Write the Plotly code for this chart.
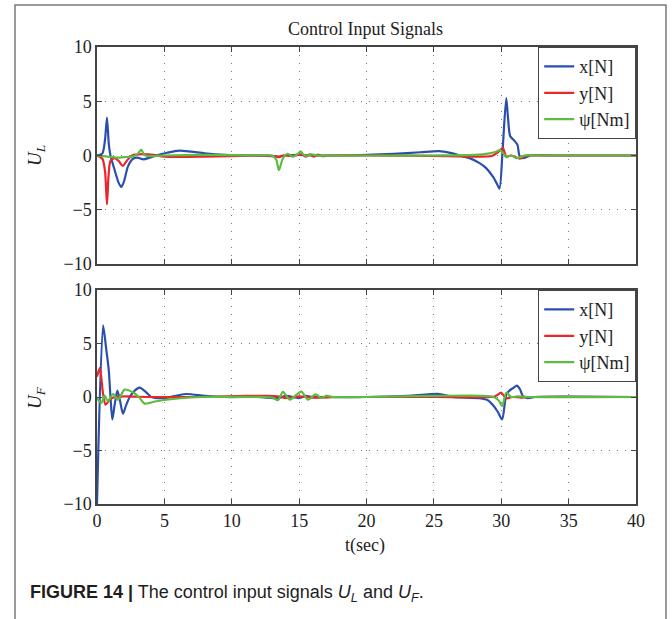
import plotly.graph_objects as go

# ---- U_L (leader control inputs) ----
tL_x = [0, 0.4, 0.6, 0.74, 0.88, 1.0, 1.3, 1.6, 1.8, 2.0, 2.3, 2.67, 3.0, 3.45, 3.9, 4.4,
        5.2, 6.1, 7.0, 8.0, 9.5, 11, 13.0, 13.5, 14, 15, 16, 18, 20, 22, 24, 25.4, 26.4,
        26.9, 27.6, 28.39, 28.88, 29.38, 29.67, 29.87, 30.1, 30.37, 30.5, 30.66, 30.98,
        31.2, 31.36, 31.6, 32.2, 34, 40]
uL_x = [0, 0.2, 1.5, 3.5, 1.0, 0.0, -1.3, -2.5, -2.9, -2.4, -1.0, -0.3, -0.2, -0.35, -0.2, 0.0,
        0.25, 0.45, 0.35, 0.2, 0.05, 0, -0.05, -0.1, 0, 0.05, 0, 0, 0.05, 0.15, 0.3, 0.4, 0.2,
        0, -0.22, -0.7, -1.16, -1.95, -2.58, -3.05, 0.5, 5.28, 3.5, 1.8, 1.35,
        1.0, -0.05, -0.25, 0, 0, 0]

tL_y = [0, 0.4, 0.6, 0.74, 0.85, 1.0, 1.3, 1.6, 1.9, 2.2, 2.6, 3.4, 4.2, 5, 8, 10, 12,
        13.2, 13.5, 13.8, 14.5, 15.2, 15.5, 15.8, 16.1, 16.4, 16.7, 17.2, 20, 26, 28, 29.3,
        29.75, 30.12, 30.37, 30.7, 31.0, 31.36, 31.85, 33, 40]
uL_y = [0, -0.3, -1.5, -4.5, -2.0, -0.5, -0.25, -0.5, -0.95, -0.5, 0, 0.12, 0.05, -0.1, -0.1, -0.05, 0,
        -0.05, -0.15, 0, -0.05, 0.1, -0.1, 0.1, -0.1, 0.08, -0.05, 0, 0, -0.05, -0.1, -0.05,
        0.3, 0.7, -0.1, 0, -0.1, -0.3, 0, 0, 0]

tL_psi = [0, 0.8, 1.5, 2.0, 2.6, 3.0, 3.29, 3.5, 3.8, 5, 8, 12, 13.0, 13.3, 13.5, 13.75, 13.95,
          14.17, 14.54, 14.85, 15.11, 15.3, 15.53, 15.9, 16.4, 20, 25, 28, 29.13, 29.6, 29.92,
          30.15, 30.37, 30.74, 31.16, 31.73, 33, 40]
uL_psi = [0, -0.1, -0.2, -0.15, -0.1, 0.1, 0.55, 0.05, -0.05, 0, 0.05, 0, 0, -0.4, -1.35, -0.4, 0,
          0.16, -0.1, 0.1, 0.38, 0.1, -0.05, 0.1, 0, 0, 0, 0.05, 0.2, 0.35, 0.5,
          0.2, -0.15, 0, -0.25, 0, 0, 0]

# ---- U_F (follower control inputs) ----
tF_x = [0, 0.45, 0.69, 0.87, 1.0, 1.14, 1.3, 1.51, 1.7, 1.93, 2.15, 2.43, 2.8, 3.17, 3.6,
        4.03, 5.0, 6.6, 8, 9.5, 12, 13.5, 14, 15, 15.5, 16, 17, 20, 23, 25.42, 26.41, 28.39,
        29.0, 29.38, 29.75, 30.07, 30.37, 30.61, 30.9, 31.16, 31.4, 31.6, 31.97, 32.5, 40]
uF_x = [-10, 6.7, 4.4, 2.56, 0, -2.1, -0.8, 0.6, -0.3, -1.56, -0.8, 0, 0.6, 0.875, 0.5,
        0, -0.1, 0.28, 0.1, 0, 0, -0.1, 0.1, -0.1, 0.1, 0, 0, 0, 0.1, 0.28, 0, -0.12,
        -0.3, -0.75, -1.4, -2.1, 0.2, 0.6, 0.85, 1.07, 0.7, 0.1, -0.1, 0, 0]

tF_y = [0, 0.2, 0.3, 0.45, 0.64, 0.94, 1.3, 2, 4, 8, 11, 12.5, 13.5, 14, 15, 16, 18, 25,
        29.5, 30.0, 30.37, 30.8, 31.48, 32, 40]
uF_y = [1.9, 2.7, 2.0, 0.3, -0.72, -0.25, 0, 0.05, 0, 0, 0.1, 0.1, 0.05, -0.1, 0.05, -0.05, 0, 0,
        0.05, 0.4, -0.12, 0, -0.05, 0, 0]

tF_psi = [0, 0.32, 0.57, 0.82, 1.19, 1.56, 2.05, 2.67, 3.1, 3.54, 4.4, 5.64, 7.6, 10, 13,
          13.43, 13.8, 14.3, 15.16, 15.66, 16.22, 16.65, 17.0, 17.5, 20, 25, 29.3, 29.8,
          30.07, 30.37, 30.74, 31.2, 32, 40]
uF_psi = [-0.1, -0.56, 0.12, -0.4, 0.28, -0.25, 0.69, 0.44, 0, -0.62, -0.4, -0.19, 0, 0, -0.05,
          -0.3, 0.47, -0.25, 0.5, -0.25, 0.25, -0.1, 0.12, 0, 0, 0.1, 0.05, -0.3,
          -0.85, 0.4, 0, 0.05, 0, 0]

names = ["x[N]", "y[N]", "\u03c8[Nm]"]
colors = ["#2b4fac", "#e8262c", "#5dbb3f"]
x_ticks = [0, 5, 10, 15, 20, 25, 30, 35, 40]
y_ticks = [-10, -5, 0, 5, 10]

SERIF = "Liberation Serif, Times New Roman, serif"
SANS = "Liberation Sans, Arial, sans-serif"
AX = "#444444"

W, H = 672, 619
def px_x(p):
    return p / W
def px_y(p):
    return 1 - p / H

fig = go.Figure()

top = [(tL_x, uL_x), (tL_y, uL_y), (tL_psi, uL_psi)]
bot = [(tF_x, uF_x), (tF_y, uF_y), (tF_psi, uF_psi)]
for (t, u), n, c in zip(top, names, colors):
    fig.add_trace(go.Scatter(x=t, y=u, name=n, mode="lines",
                             line=dict(color=c, width=2.2, shape="spline", smoothing=0.7),
                             xaxis="x", yaxis="y", legend="legend"))
for (t, u), n, c in zip(bot, names, colors):
    fig.add_trace(go.Scatter(x=t, y=u, name=n, mode="lines",
                             line=dict(color=c, width=2.2, shape="spline", smoothing=0.7),
                             xaxis="x2", yaxis="y2", legend="legend2"))

xdom = [px_x(97), px_x(636)]
axis_common = dict(showline=True, linecolor=AX, linewidth=1.5, mirror="ticks",
                   ticks="inside", ticklen=5, tickcolor=AX, tickwidth=1,
                   showgrid=True, gridcolor="#7a7a7a", gridwidth=1, griddash="1px,7px",
                   zeroline=False, automargin=False,
                   tickfont=dict(family=SERIF, size=18, color="#222"))

legend_common = dict(x=px_x(636), xanchor="right", yanchor="top",
                     bgcolor="white", bordercolor=AX, borderwidth=1.2,
                     font=dict(family=SERIF, size=18, color="#222"), itemwidth=30,
                     tracegroupgap=0)

fig.update_layout(
    width=W, height=H, margin=dict(l=0, r=0, t=0, b=0, pad=0, autoexpand=False),
    autosize=False,
    paper_bgcolor="white", plot_bgcolor="white",
    xaxis=dict(domain=xdom, range=[0, 40], tickvals=x_ticks, showticklabels=False,
               anchor="y", **axis_common),
    yaxis=dict(domain=[px_y(264), px_y(47)], range=[-10, 10], tickvals=y_ticks,
               anchor="x", **axis_common),
    xaxis2=dict(domain=xdom, range=[0, 40], tickvals=x_ticks, anchor="y2",
                **axis_common),
    yaxis2=dict(domain=[px_y(504), px_y(290)], range=[-10, 10], tickvals=y_ticks,
                anchor="x2", **axis_common),
    legend=dict(y=px_y(47), **legend_common),
    legend2=dict(y=px_y(290), **legend_common),
    showlegend=True,
)

def note(text, x, y, size=18, family=SERIF, angle=0, xanchor="center", color="#222"):
    return dict(text=text, x=px_x(x), y=px_y(y), xref="paper", yref="paper",
                xanchor=xanchor, yanchor="middle", showarrow=False, textangle=angle,
                font=dict(family=family, size=size, color=color))

annotations = [
    note("Control Input Signals", 366, 29),
    note("t(sec)", 365, 545),
    note("<i>U</i><sub><i>L</i></sub>", 36, 156, size=19, angle=-90),
    note("<i>U</i><sub><i>F</i></sub>", 36, 398, size=19, angle=-90),
    note("<b>FIGURE 14 |</b> The control input signals <i>U<sub>L</sub></i> and "
         "<i>U<sub>F</sub></i>.", 28, 593, size=18, family=SANS, xanchor="left",
         color="#1e1e1e"),
]
fig.update_layout(annotations=annotations)

# outer frame (left, top and right edges)
fig.add_shape(type="path", xref="paper", yref="paper",
              path=f"M {px_x(15)},0 L {px_x(15)},{px_y(5)} L {px_x(666)},{px_y(5)} "
                   f"L {px_x(666)},0",
              line=dict(color="#7a7a7a", width=1.5), layer="above")

fig.write_html("out.html")
